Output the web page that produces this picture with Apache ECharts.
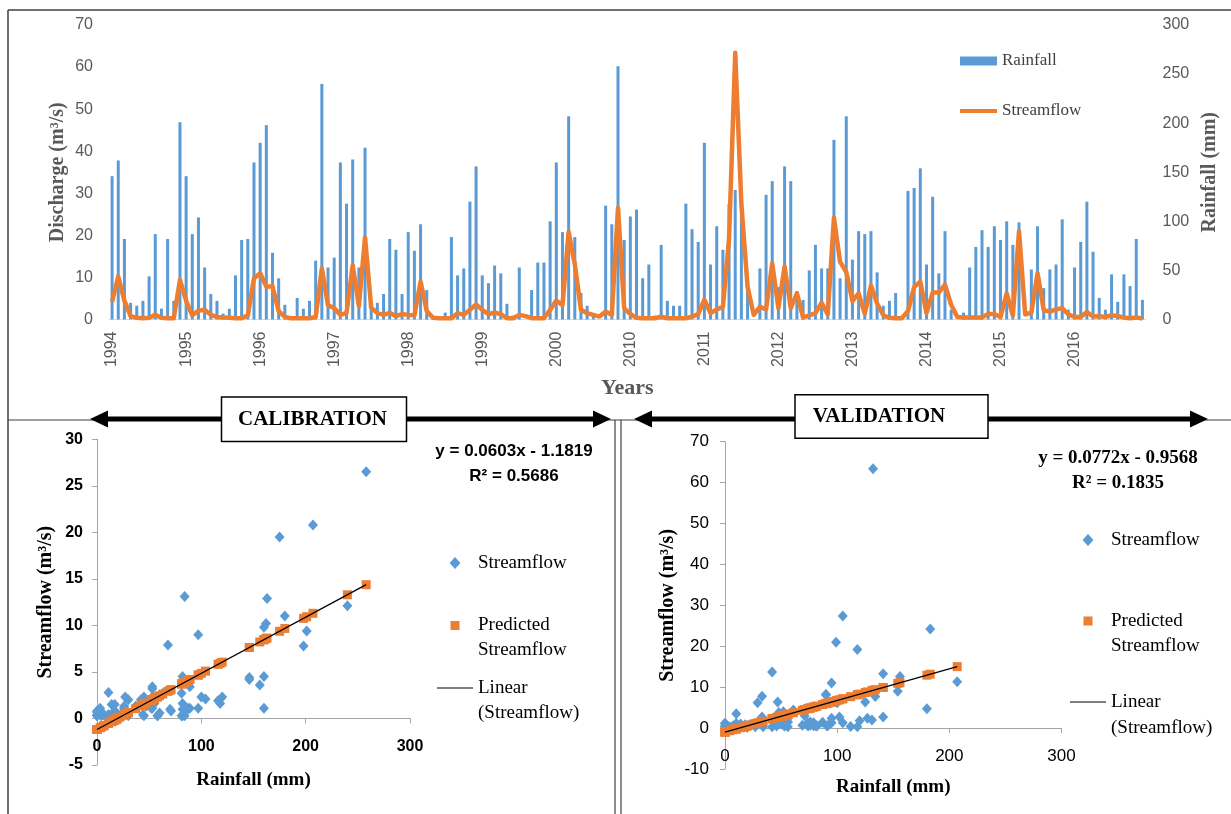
<!DOCTYPE html>
<html><head><meta charset="utf-8">
<script src="https://cdn.jsdelivr.net/npm/echarts@6/dist/echarts.min.js"></script>
<style>html,body{margin:0;padding:0;background:#fff}#c{width:1231px;height:814px}</style>
</head><body><div id="c"></div>
<script>
// ---------- data ----------
const yearLabels = ['1994','1995','1996','1997','1998','1999','2000','2010','2011','2012','2013','2014','2015','2016'];
// monthly rainfall (mm), 12 values per year label
const rainfall = [
  146,162,82,17,14,19,44,87,11,82,19,201,
  146,87,104,53,26,19,6,11,45,81,82,160,
  180,198,68,42,15,0,22,11,19,60,240,53,
  63,160,118,163,53,175,11,17,26,82,71,26,
  89,70,97,30,0,0,7,84,45,52,120,156,
  45,37,55,47,16,4,53,0,30,58,58,100,
  160,89,207,84,27,14,3,0,116,97,258,81,
  105,112,42,56,4,76,19,14,14,118,92,79,
  180,56,95,71,118,132,105,33,0,52,127,141,
  33,156,141,29,20,50,76,52,52,183,42,207,
  61,90,87,90,48,14,19,27,0,131,134,154,
  56,125,47,90,10,0,7,53,74,91,74,95,
  81,100,76,99,0,51,95,32,51,56,102,10,
  53,79,120,69,22,10,46,18,46,34,82,20
];
// monthly streamflow (m3/s)
const streamflow = [
  4.2,10.2,4.5,0.8,0.4,0.3,0.4,1.1,0.4,0.3,0.3,9.4,
  4.4,1.0,2.1,2.3,1.1,0.6,0.5,0.4,0.3,0.3,1.0,9.8,
  11.0,7.8,7.9,2.0,0.6,0.3,0.3,0.3,0.3,0.6,12.1,3.4,
  2.7,1.1,1.6,12.9,3.2,19.5,2.8,1.5,1.1,1.6,0.8,1.3,
  1.1,1.0,9.0,2.0,0.4,0.3,0.3,0.3,1.5,1.1,2.3,3.6,
  2.3,1.3,1.6,1.3,0.3,0.3,1.1,0.8,0.3,0.3,0.3,2.3,
  4.5,3.4,20.8,13.1,2.3,1.5,1.1,0.7,1.9,1.1,26.5,2.7,
  1.3,0.4,0.3,0.3,0.3,0.7,0.3,0.3,0.3,0.3,0.7,1.3,
  4.7,1.5,2.4,3.0,19.2,63.4,27.4,7.8,1.1,3.0,2.4,13.3,
  2.7,12.6,2.7,6.2,0.5,1.0,1.5,4.0,1.2,24.2,13.7,11.3,
  4.4,6.2,1.4,8.1,3.8,1.0,0.4,0.3,0.3,2.0,7.7,9.0,
  1.5,6.4,6.4,8.3,3.5,0.6,0.5,0.5,0.5,0.5,1.3,1.3,
  0.6,6.2,1.0,21.0,1.2,1.6,11.0,2.2,1.9,2.4,2.7,1.2,
  0.6,0.6,1.8,0.7,0.8,0.6,1.0,0.8,0.5,0.3,0.5,0.2
];
const calibrationYears = ['1994','1995','1996','1997','1998','1999','2000'];
const validationYears = ['2010','2011','2012','2013','2014','2015','2016'];
const calSlope = 0.0603, calIntercept = -1.1819, calR2 = 0.5686;
const valSlope = 0.0772, valIntercept = -0.9568, valR2 = 0.1835;
const leftTicks = [0, 70, 10], rightTicks = [0, 300, 50];
const calYTicks = [-5, 30, 5], valYTicks = [-10, 70, 10], scatterXTicks = [0, 300, 100];

// ---------- derived ----------
const months = [];
yearLabels.forEach(y => { for (let m = 1; m <= 12; m++) months.push(y + '-' + (m < 10 ? '0' : '') + m); });
function pairs(years) {
  const out = [];
  months.forEach((mo, i) => { if (years.includes(mo.slice(0, 4))) out.push([rainfall[i], streamflow[i]]); });
  return out;
}
const calObs = pairs(calibrationYears), valObs = pairs(validationYears);
const calPred = calObs.map(p => [p[0], calSlope * p[0] + calIntercept]);
const valPred = valObs.map(p => [p[0], valSlope * p[0] + valIntercept]);
function trend(obs, s, b) {
  const xs = obs.map(p => p[0]); const a = Math.min(...xs), z = Math.max(...xs);
  return [[a, s * a + b], [z, s * z + b]];
}
const calLine = trend(calObs, calSlope, calIntercept), valLine = trend(valObs, valSlope, valIntercept);

const sans = 'Liberation Sans', serif = 'Liberation Serif';
const BLUE = '#5B9BD5', ORANGE = '#ED7D31', AX = '#a6a6a6';
const legendNames = {'cal-obs':'Streamflow','cal-pred':'Predicted','cal-lin':'Linear','val-obs':'Streamflow','val-pred':'Predicted','val-lin':'Linear'};
const eq = (s, b) => 'y = ' + s.toFixed(4) + 'x ' + (b < 0 ? '- ' : '+ ') + Math.abs(b).toFixed(4);

const G = [
  { left: 109, top: 25, width: 1036.5, height: 294.5 },
  { left: 97, top: 439.3, width: 313, height: 325.7 },
  { left: 725, top: 441.7, width: 336.5, height: 327.3 }
];
// x axis of the scatter panels sits at y = 0
const zeroOffset = (ticks, g) => -((0 - ticks[0]) / (ticks[1] - ticks[0])) * g.height;

function scatterX(grid, gap, ticks, label) {
  return { gridIndex: grid, type: 'value', min: scatterXTicks[0], max: scatterXTicks[1], interval: scatterXTicks[2],
    offset: zeroOffset(ticks, G[grid]),
    axisLine: { onZero: false, lineStyle: { color: AX, width: 1 } }, axisTick: { show: true, length: 5, lineStyle: { color: AX } },
    splitLine: { show: false }, axisLabel: label, name: 'Rainfall (mm)', nameLocation: 'middle', nameGap: gap,
    nameTextStyle: { fontFamily: serif, fontWeight: 'bold', fontSize: 19, color: '#000' } };
}
// legend icons (bounding box fixed by the leading moves so shapes keep their proportions)
const ICON_DIAMOND = 'path://M0,0M36,12M18,0L23.5,6L18,12L12.5,6Z';
const ICON_SQUARE = 'path://M0,0M36,12M13.5,1.5L22.5,1.5L22.5,10.5L13.5,10.5Z';
const ICON_THIN = 'path://M0,0M36,12M0,5.4L36,5.4L36,6.6L0,6.6Z';
const ICON_THICK = 'path://M0,0M37,9M0,2.5L37,2.5L37,6.5L0,6.5Z';

const chart = echarts.init(document.getElementById('c'), null, { renderer: 'canvas' });
chart.setOption({
  animation: false,
  backgroundColor: '#fff',
  grid: G.map(g => Object.assign({ outerBoundsMode: 'none', containLabel: false }, g)),
  xAxis: [
    { gridIndex: 0, type: 'category', data: months, boundaryGap: true,
      axisLine: { lineStyle: { color: '#d9d9d9' } }, axisTick: { show: false },
      axisLabel: { interval: 11, rotate: 90, margin: 12, formatter: v => v.slice(0, 4), color: '#595959', fontSize: 16, fontFamily: sans },
      name: 'Years', nameLocation: 'middle', nameGap: 58,
      nameTextStyle: { fontFamily: serif, fontWeight: 'bold', fontSize: 22, color: '#595959' } },
    scatterX(1, 52, calYTicks, { margin: 20, fontFamily: sans, fontWeight: 'bold', fontSize: 16, color: '#000' }),
    scatterX(2, 49.5, valYTicks, { margin: 20, fontFamily: sans, fontSize: 17, color: '#000' })
  ],
  yAxis: [
    { gridIndex: 0, type: 'value', position: 'left', min: leftTicks[0], max: leftTicks[1], interval: leftTicks[2],
      axisLine: { show: false }, axisTick: { show: false }, splitLine: { show: false },
      axisLabel: { color: '#595959', fontSize: 16, fontFamily: sans, margin: 16 },
      name: 'Discharge (m³/s)', nameLocation: 'middle', nameRotate: 90, nameGap: 41, nameMoveOverlap: false,
      nameTextStyle: { fontFamily: serif, fontWeight: 'bold', fontSize: 20, color: '#595959' } },
    { gridIndex: 0, type: 'value', position: 'right', min: rightTicks[0], max: rightTicks[1], interval: rightTicks[2],
      axisLine: { show: false }, axisTick: { show: false }, splitLine: { show: false },
      axisLabel: { color: '#595959', fontSize: 16, fontFamily: sans, margin: 17 },
      name: 'Rainfall (mm)', nameLocation: 'middle', nameRotate: 90, nameGap: 52,
      nameTextStyle: { fontFamily: serif, fontWeight: 'bold', fontSize: 20, color: '#595959' } },
    { gridIndex: 1, type: 'value', min: calYTicks[0], max: calYTicks[1], interval: calYTicks[2],
      axisLine: { show: true, onZero: false, lineStyle: { color: AX } }, axisTick: { show: true, length: 5, lineStyle: { color: AX } }, splitLine: { show: false },
      axisLabel: { color: '#000', fontSize: 16, fontWeight: 'bold', fontFamily: sans, margin: 14 },
      name: 'Streamflow (m³/s)', nameLocation: 'middle', nameRotate: 90, nameGap: 41,
      nameTextStyle: { fontFamily: serif, fontWeight: 'bold', fontSize: 20, color: '#000' } },
    { gridIndex: 2, type: 'value', min: valYTicks[0], max: valYTicks[1], interval: valYTicks[2],
      axisLine: { show: true, onZero: false, lineStyle: { color: AX } }, axisTick: { show: true, length: 5, lineStyle: { color: AX } }, splitLine: { show: false },
      axisLabel: { color: '#000', fontSize: 17, fontFamily: sans, margin: 16 },
      name: 'Streamflow (m³/s)', nameLocation: 'middle', nameRotate: 90, nameGap: 47.5,
      nameTextStyle: { fontFamily: serif, fontWeight: 'bold', fontSize: 20, color: '#000' } }
  ],
  legend: [
    { data: [{ name: 'Rainfall', icon: 'rect' }, { name: 'Streamflow', icon: ICON_THICK }], orient: 'vertical', left: 960, top: 51, padding: 0,
      itemWidth: 37, itemHeight: 9, itemGap: 30, selectedMode: false,
      textStyle: { fontFamily: serif, fontSize: 17, color: '#404040', lineHeight: 20 } },
    { data: [{ name: 'cal-obs', icon: ICON_DIAMOND }, { name: 'cal-pred', icon: ICON_SQUARE }, { name: 'cal-lin', icon: ICON_THIN }],
      formatter: n => legendNames[n], orient: 'vertical', left: 437, top: 552, padding: 0,
      itemWidth: 36, itemHeight: 12, itemGap: 40.5, selectedMode: false,
      textStyle: { fontFamily: serif, fontSize: 19, color: '#000', lineHeight: 22 } },
    { data: [{ name: 'val-obs', icon: ICON_DIAMOND }, { name: 'val-pred', icon: ICON_SQUARE }, { name: 'val-lin', icon: ICON_THIN }],
      formatter: n => legendNames[n], orient: 'vertical', left: 1070, top: 529, padding: 0,
      itemWidth: 36, itemHeight: 12, itemGap: 59, selectedMode: false,
      textStyle: { fontFamily: serif, fontSize: 19, color: '#000', lineHeight: 22 } }
  ],
  series: [
    { name: 'Rainfall', type: 'bar', xAxisIndex: 0, yAxisIndex: 1, data: rainfall, barWidth: 3, itemStyle: { color: BLUE } },
    { name: 'Streamflow', type: 'line', xAxisIndex: 0, yAxisIndex: 0, data: streamflow, symbol: 'none', z: 5,
      itemStyle: { color: ORANGE }, lineStyle: { color: ORANGE, width: 4.5, join: 'round' } },
    { name: 'cal-obs', type: 'scatter', xAxisIndex: 1, yAxisIndex: 2, data: calObs, symbol: 'diamond', symbolSize: [10, 11], itemStyle: { color: BLUE, opacity: 1 } },
    { name: 'cal-pred', type: 'scatter', xAxisIndex: 1, yAxisIndex: 2, data: calPred, symbol: 'rect', symbolSize: 9, itemStyle: { color: ORANGE, opacity: 1 } },
    { name: 'cal-lin', type: 'line', xAxisIndex: 1, yAxisIndex: 2, data: calLine, symbol: 'none', itemStyle: { color: '#000' }, lineStyle: { color: '#000', width: 1.3 }, z: 6 },
    { name: 'val-obs', type: 'scatter', xAxisIndex: 2, yAxisIndex: 3, data: valObs, symbol: 'diamond', symbolSize: [10, 11], itemStyle: { color: BLUE, opacity: 1 } },
    { name: 'val-pred', type: 'scatter', xAxisIndex: 2, yAxisIndex: 3, data: valPred, symbol: 'rect', symbolSize: 9, itemStyle: { color: ORANGE, opacity: 1 } },
    { name: 'val-lin', type: 'line', xAxisIndex: 2, yAxisIndex: 3, data: valLine, symbol: 'none', itemStyle: { color: '#000' }, lineStyle: { color: '#000', width: 1.3 }, z: 6 }
  ],
  graphic: [
    { type: 'line', shape: { x1: 8, y1: 10, x2: 1231, y2: 10 }, style: { stroke: '#404040', lineWidth: 1.5 } },
    { type: 'line', shape: { x1: 8, y1: 10, x2: 8, y2: 814 }, style: { stroke: '#404040', lineWidth: 1.5 } },
    { type: 'line', shape: { x1: 8, y1: 420, x2: 1231, y2: 420 }, style: { stroke: '#404040', lineWidth: 1.2 } },
    { type: 'line', shape: { x1: 615, y1: 420, x2: 615, y2: 814 }, style: { stroke: '#404040', lineWidth: 1.2 } },
    { type: 'line', shape: { x1: 621, y1: 420, x2: 621, y2: 814 }, style: { stroke: '#404040', lineWidth: 1.2 } },
    // calibration arrow
    { type: 'rect', shape: { x: 104, y: 416.5, width: 490, height: 5 }, style: { fill: '#000' } },
    { type: 'polygon', shape: { points: [[90, 419], [108, 410.5], [108, 427.5]] }, style: { fill: '#000' } },
    { type: 'polygon', shape: { points: [[611, 419], [593, 410.5], [593, 427.5]] }, style: { fill: '#000' } },
    { type: 'rect', shape: { x: 221.5, y: 397, width: 185, height: 44.5 }, style: { fill: '#fff', stroke: '#000', lineWidth: 1.5 }, z: 10 },
    { type: 'text', x: 312.5, y: 420, z: 11, style: { text: 'CALIBRATION', font: 'bold 21px "Liberation Serif"', fill: '#000', align: 'center', verticalAlign: 'middle' } },
    // validation arrow
    { type: 'rect', shape: { x: 648, y: 416.5, width: 546, height: 5 }, style: { fill: '#000' } },
    { type: 'polygon', shape: { points: [[634, 419], [652, 410.5], [652, 427.5]] }, style: { fill: '#000' } },
    { type: 'polygon', shape: { points: [[1208, 419], [1190, 410.5], [1190, 427.5]] }, style: { fill: '#000' } },
    { type: 'rect', shape: { x: 795, y: 394.7, width: 193, height: 43.6 }, style: { fill: '#fff', stroke: '#000', lineWidth: 1.5 }, z: 10 },
    { type: 'text', x: 879, y: 417, z: 11, style: { text: 'VALIDATION', font: 'bold 21px "Liberation Serif"', fill: '#000', align: 'center', verticalAlign: 'middle' } },
    // regression annotations
    { type: 'text', x: 514, y: 451, style: { text: eq(calSlope, calIntercept), font: 'bold 17px "Liberation Sans"', fill: '#000', align: 'center', verticalAlign: 'middle' } },
    { type: 'text', x: 514, y: 476, style: { text: 'R² = ' + calR2.toFixed(4), font: 'bold 17px "Liberation Sans"', fill: '#000', align: 'center', verticalAlign: 'middle' } },
    { type: 'text', x: 1118, y: 458, style: { text: eq(valSlope, valIntercept), font: 'bold 19px "Liberation Serif"', fill: '#000', align: 'center', verticalAlign: 'middle' } },
    { type: 'text', x: 1118, y: 483, style: { text: 'R² = ' + valR2.toFixed(4), font: 'bold 19px "Liberation Serif"', fill: '#000', align: 'center', verticalAlign: 'middle' } },
    // second lines of legend entries
    { type: 'text', x: 478, y: 650, style: { text: 'Streamflow', font: '19px "Liberation Serif"', fill: '#000', align: 'left', verticalAlign: 'middle' } },
    { type: 'text', x: 478, y: 713, style: { text: '(Streamflow)', font: '19px "Liberation Serif"', fill: '#000', align: 'left', verticalAlign: 'middle' } },
    { type: 'text', x: 1111, y: 646, style: { text: 'Streamflow', font: '19px "Liberation Serif"', fill: '#000', align: 'left', verticalAlign: 'middle' } },
    { type: 'text', x: 1111, y: 728, style: { text: '(Streamflow)', font: '19px "Liberation Serif"', fill: '#000', align: 'left', verticalAlign: 'middle' } }
  ]
});
</script></body></html>
